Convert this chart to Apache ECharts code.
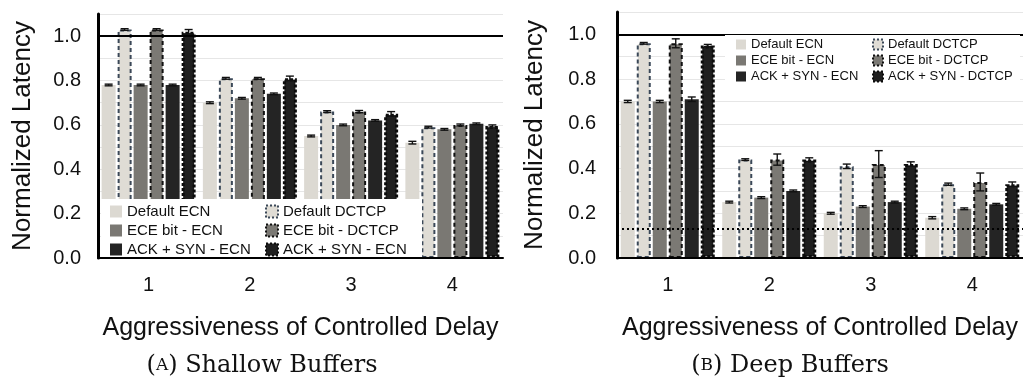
<!DOCTYPE html>
<html>
<head>
<meta charset="utf-8">
<title>Normalized latency vs. CoDel aggressiveness</title>
<script src="https://cdn.jsdelivr.net/npm/echarts@6/dist/echarts.min.js"></script>
<style>
  html, body { margin: 0; padding: 0; background: #fff; }
  #chart { width: 1023px; height: 381px; }
</style>
</head>
<body>
<div id="chart"></div>
<script>
// Aggressiveness levels of Controlled Delay
const categories = ['1', '2', '3', '4'];

// Series (bar order within each group)
const seriesNames = ['Default ECN', 'Default DCTCP', 'ECE bit - ECN', 'ECE bit - DCTCP', 'ACK + SYN - ECN', 'ACK + SYN - DCTCP'];
// Legend labels as printed on each panel
const shallowLegendLabels = ['Default ECN', 'Default DCTCP', 'ECE bit - ECN', 'ECE bit - DCTCP', 'ACK + SYN - ECN', 'ACK + SYN - ECN'];
const deepLegendLabels = ['Default ECN', 'Default DCTCP', 'ECE bit - ECN', 'ECE bit - DCTCP', 'ACK + SYN - ECN', 'ACK + SYN - DCTCP'];

// (A) Shallow buffers: mean normalized latency
const shallowDefaultEcn   = [0.78, 0.70, 0.55, 0.52];
const shallowDefaultDctcp = [1.03, 0.81, 0.66, 0.59];
const shallowEceEcn       = [0.78, 0.72, 0.60, 0.58];
const shallowEceDctcp     = [1.03, 0.81, 0.66, 0.60];
const shallowAckSynEcn    = [0.78, 0.74, 0.62, 0.605];
const shallowAckSynDctcp  = [1.02, 0.81, 0.65, 0.595];
// (A) Shallow buffers: error (half range)
const shallowDefaultEcnErr   = [0.003, 0.004, 0.004, 0.006];
const shallowDefaultDctcpErr = [0.003, 0.004, 0.004, 0.004];
const shallowEceEcnErr       = [0.003, 0.003, 0.003, 0.003];
const shallowEceDctcpErr     = [0.003, 0.004, 0.005, 0.004];
const shallowAckSynEcnErr    = [0.003, 0.003, 0.003, 0.003];
const shallowAckSynDctcpErr  = [0.010, 0.010, 0.010, 0.005];

// (B) Deep buffers: mean normalized latency
const deepDefaultEcn   = [0.70, 0.25, 0.20, 0.18];
const deepDefaultDctcp = [0.96, 0.44, 0.41, 0.33];
const deepEceEcn       = [0.70, 0.27, 0.23, 0.22];
const deepEceDctcp     = [0.96, 0.44, 0.42, 0.34];
const deepAckSynEcn    = [0.71, 0.30, 0.25, 0.24];
const deepAckSynDctcp  = [0.95, 0.44, 0.42, 0.33];
// (B) Deep buffers: error (half range)
const deepDefaultEcnErr   = [0.005, 0.004, 0.004, 0.005];
const deepDefaultDctcpErr = [0.003, 0.003, 0.010, 0.005];
const deepEceEcnErr       = [0.005, 0.004, 0.004, 0.004];
const deepEceDctcpErr     = [0.020, 0.025, 0.060, 0.040];
const deepAckSynEcnErr    = [0.010, 0.004, 0.004, 0.004];
const deepAckSynDctcpErr  = [0.005, 0.008, 0.010, 0.010];

// Reference levels
const baselineLevel = 1.0;
const deepFloorLevel = 0.13;

const shallowValues = [shallowDefaultEcn, shallowDefaultDctcp, shallowEceEcn, shallowEceDctcp, shallowAckSynEcn, shallowAckSynDctcp];
const shallowErrors = [shallowDefaultEcnErr, shallowDefaultDctcpErr, shallowEceEcnErr, shallowEceDctcpErr, shallowAckSynEcnErr, shallowAckSynDctcpErr];
const deepValues = [deepDefaultEcn, deepDefaultDctcp, deepEceEcn, deepEceDctcp, deepAckSynEcn, deepAckSynDctcp];
const deepErrors = [deepDefaultEcnErr, deepDefaultDctcpErr, deepEceEcnErr, deepEceDctcpErr, deepAckSynEcnErr, deepAckSynDctcpErr];

const FONT = '"Liberation Sans", Arial, Helvetica, sans-serif';
const SERIF = '"DejaVu Serif", "Liberation Serif", serif';

// Bar looks: ECN variants solid, DCTCP variants with dashed outlines
const barStyles = [
  { color: '#dcd9d2', borderWidth: 0 },
  { color: '#dfdcd5', borderColor: '#3b4858', borderWidth: 2, borderType: [4, 3] },
  { color: '#7a7873', borderWidth: 0 },
  { color: '#7b7974', borderColor: '#111111', borderWidth: 2, borderType: [4, 3] },
  { color: '#242424', borderWidth: 0 },
  { color: '#1f1f1f', borderColor: '#0c0c0c', borderWidth: 3, borderType: [3, 2] }
];

const BAR_W = 14;
const BAR_GAP = 2;

function barSeries(axisIdx, values) {
  return values.map((vals, i) => ({
    name: seriesNames[i],
    type: 'bar',
    xAxisIndex: axisIdx,
    yAxisIndex: axisIdx,
    barWidth: BAR_W,
    barGap: (BAR_GAP / BAR_W * 100) + '%',
    data: vals,
    itemStyle: barStyles[i],
    emphasis: { disabled: true },
    animation: false
  }));
}

function errorSeries(axisIdx, values, errors, markLineData) {
  const data = [];
  values.forEach((vals, s) => {
    vals.forEach((v, c) => data.push([c, s, v, errors[s][c]]));
  });
  const n = values.length;
  const groupW = n * BAR_W + (n - 1) * BAR_GAP;
  return {
    type: 'custom',
    xAxisIndex: axisIdx,
    yAxisIndex: axisIdx,
    z: 3,
    silent: true,
    animation: false,
    data: data,
    renderItem: function (params, api) {
      const c = api.value(0), s = api.value(1), v = api.value(2), e = api.value(3);
      const off = -groupW / 2 + s * (BAR_W + BAR_GAP) + BAR_W / 2;
      const hi = api.coord([c, v + e]);
      const lo = api.coord([c, v - e]);
      const x = hi[0] + off;
      const y1 = Math.min(hi[1], lo[1] - 1.5);
      const y2 = Math.max(lo[1], hi[1] + 1.5);
      const cap = 4;
      const st = { stroke: '#111', lineWidth: 1.4 };
      return {
        type: 'group',
        children: [
          { type: 'line', shape: { x1: x, y1: y1, x2: x, y2: y2 }, style: st },
          { type: 'line', shape: { x1: x - cap, y1: y1, x2: x + cap, y2: y1 }, style: st },
          { type: 'line', shape: { x1: x - cap, y1: y2, x2: x + cap, y2: y2 }, style: st }
        ]
      };
    },
    markLine: {
      silent: true,
      symbol: 'none',
      label: { show: false },
      animation: false,
      data: markLineData
    }
  };
}

function xAxisFor(gridIdx) {
  return {
    type: 'category',
    gridIndex: gridIdx,
    data: categories,
    z: 9,
    axisLine: { lineStyle: { color: '#000', width: 2 } },
    axisTick: { show: false },
    axisLabel: { fontFamily: FONT, fontSize: 20, color: '#111', margin: 17 },
    name: 'Aggressiveness of Controlled Delay',
    nameLocation: 'middle',
    nameGap: 58,
    nameTextStyle: { fontFamily: FONT, fontSize: 25, color: '#111' }
  };
}

function yAxisFor(gridIdx, labelMargin, nameGap) {
  return {
    type: 'value',
    gridIndex: gridIdx,
    min: 0,
    max: 1.1,
    interval: 0.1,
    axisLine: { show: true, lineStyle: { color: '#000', width: 3 } },
    axisTick: { show: false },
    splitLine: { show: true, lineStyle: { color: '#e6e6e6', width: 1 } },
    axisLabel: {
      fontFamily: FONT, fontSize: 20, color: '#111', margin: labelMargin,
      formatter: function (v) {
        const t = Math.round(v * 10);
        return (t % 2 === 0 && t <= 10) ? (t / 10).toFixed(1) : '';
      }
    },
    name: 'Normalized Latency',
    nameLocation: 'middle',
    nameRotate: 90,
    nameGap: nameGap,
    nameTextStyle: { fontFamily: FONT, fontSize: 26, color: '#111' }
  };
}

function legendColumn(names, labels, left, top, fontSize, iconSize, gap) {
  return {
    orient: 'vertical',
    left: left,
    top: top,
    padding: 0,
    z: 10,
    selectedMode: false,
    itemWidth: iconSize,
    itemHeight: iconSize,
    itemGap: gap,
    icon: 'rect',
    data: names.map(function (name) {
      const st = barStyles[seriesNames.indexOf(name)];
      return st.borderWidth
        ? { name: name, itemStyle: { borderType: [2, 2], borderWidth: Math.min(st.borderWidth, 2) } }
        : { name: name };
    }),
    formatter: function (name) { return labels[seriesNames.indexOf(name)]; },
    textStyle: { fontFamily: FONT, fontSize: fontSize, lineHeight: fontSize, color: '#111' }
  };
}

const colA = [seriesNames[0], seriesNames[2], seriesNames[4]];
const colB = [seriesNames[1], seriesNames[3], seriesNames[5]];

function caption(x, letter, rest) {
  return {
    type: 'text', z: 10, x: x, y: 366,
    style: {
      text: '{p|(}{s|' + letter + '}{p|) ' + rest + '}',
      align: 'center', verticalAlign: 'middle',
      rich: {
        p: { fontFamily: SERIF, fontSize: 24, fill: '#111' },
        s: { fontFamily: SERIF, fontSize: 17, fill: '#111' }
      }
    }
  };
}

const option = {
  backgroundColor: '#fff',
  animation: false,
  grid: [
    { left: 98, top: 14, width: 405, height: 244 },
    { left: 617, top: 12, width: 406, height: 246 }
  ],
  xAxis: [xAxisFor(0), xAxisFor(1)],
  yAxis: [yAxisFor(0, 17, 62), yAxisFor(1, 21, 69)],
  legend: [
    legendColumn(colA, shallowLegendLabels, 110, 204, 15, 12, 4),
    legendColumn(colB, shallowLegendLabels, 265, 204, 15, 12, 4),
    legendColumn(colA, deepLegendLabels, 736, 38, 13, 10, 3),
    legendColumn(colB, deepLegendLabels, 872, 38, 13, 10, 3)
  ],
  graphic: [
    { type: 'rect', z: 8, silent: true, shape: { x: 101, y: 199, width: 321, height: 58 }, style: { fill: '#fff' } },
    { type: 'rect', z: 8, silent: true, shape: { x: 725, y: 35, width: 295, height: 49 }, style: { fill: '#fff' } },
    caption(262, 'A', 'Shallow Buffers'),
    caption(790, 'B', 'Deep Buffers')
  ],
  series: [].concat(
    barSeries(0, shallowValues),
    barSeries(1, deepValues),
    [
      errorSeries(0, shallowValues, shallowErrors, [
        { yAxis: baselineLevel, lineStyle: { color: '#000', width: 2, type: 'solid' } }
      ]),
      errorSeries(1, deepValues, deepErrors, [
        { yAxis: baselineLevel, lineStyle: { color: '#000', width: 2, type: 'solid' } },
        { yAxis: deepFloorLevel, lineStyle: { color: '#000', width: 2, type: [2, 3] } }
      ])
    ]
  )
};

const chart = echarts.init(document.getElementById('chart'), null, { renderer: 'canvas' });
chart.setOption(option);
</script>
</body>
</html>
